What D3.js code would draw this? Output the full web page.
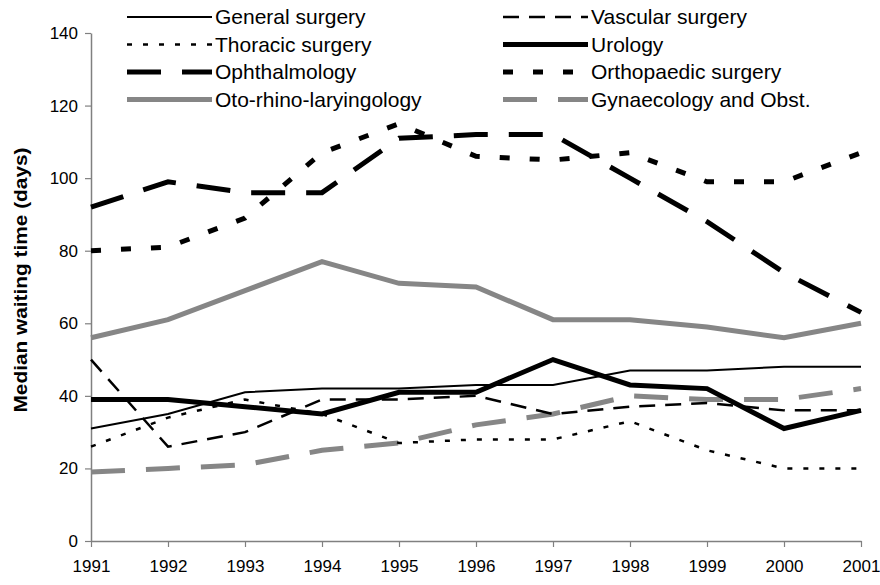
<!DOCTYPE html>
<html>
<head>
<meta charset="utf-8">
<script src="https://cdn.jsdelivr.net/npm/d3@7"></script>
<style>
  body { margin: 0; background: #fff; }
  text { font-family: "Liberation Sans", Arial, sans-serif; }
</style>
</head>
<body>
<div id="chart"></div>
<script>
var years = [1991, 1992, 1993, 1994, 1995, 1996, 1997, 1998, 1999, 2000, 2001];

var generalSurgery = [31, 35, 41, 42, 42, 43, 43, 47, 47, 48, 48];
var vascularSurgery = [50, 26, 30, 39, 39, 40, 35, 37, 38, 36, 36];
var thoracicSurgery = [26, 34, 39, 35, 27, 28, 28, 33, 25, 20, 20];
var urology = [39, 39, 37, 35, 41, 41, 50, 43, 42, 31, 36];
var ophthalmology = [92, 99, 96, 96, 111, 112, 112, 100, 88, 74, 63];
var orthopaedic = [80, 81, 89, 107, 115, 106, 105, 107, 99, 99, 107];
var otoRhino = [56, 61, 69, 77, 71, 70, 61, 61, 59, 56, 60];
var gynaecology = [19, 20, 21, 25, 27, 32, 35, 40, 39, 39, 42];

var yTicks = [0, 20, 40, 60, 80, 100, 120, 140];

var grey = "#868686";
var series = [
  { name: "General surgery", values: generalSurgery, color: "#000", width: 2, dash: null },
  { name: "Vascular surgery", values: vascularSurgery, color: "#000", width: 2.5, dash: "16,10" },
  { name: "Thoracic surgery", values: thoracicSurgery, color: "#000", width: 2.5, dash: "5,11" },
  { name: "Urology", values: urology, color: "#000", width: 5, dash: null },
  { name: "Ophthalmology", values: ophthalmology, color: "#000", width: 5, dash: "34,21" },
  { name: "Orthopaedic surgery", values: orthopaedic, color: "#000", width: 5, dash: "10,20" },
  { name: "Oto-rhino-laryingology", values: otoRhino, color: grey, width: 5, dash: null },
  { name: "Gynaecology and Obst.", values: gynaecology, color: grey, width: 5, dash: "34,21" }
];

var W = 880, H = 585;
var margin = { top: 33, right: 19, bottom: 44, left: 91 };
var width = W - margin.left - margin.right,
    height = H - margin.top - margin.bottom;

var svg = d3.select("#chart").append("svg")
  .attr("width", W)
  .attr("height", H);

var g = svg.append("g")
  .attr("transform", "translate(" + margin.left + "," + margin.top + ")");

var xScale = d3.scaleLinear()
  .domain([years[0], years[years.length - 1]])
  .range([0, width]);

var yScale = d3.scaleLinear()
  .domain([0, 140])
  .range([height, 0]);

var xAxis = g.append("g")
  .attr("transform", "translate(0," + height + ")")
  .call(d3.axisBottom(xScale).tickValues(years).tickFormat(d3.format("d")).tickSizeInner(6).tickSizeOuter(0).tickPadding(13));

var yAxis = g.append("g")
  .call(d3.axisLeft(yScale).tickValues(yTicks).tickSizeInner(6).tickSizeOuter(0).tickPadding(7));

[xAxis, yAxis].forEach(function (ax) {
  ax.select(".domain").attr("stroke", "#808080").attr("stroke-width", 1.5);
  ax.selectAll(".tick line").attr("stroke", "#808080").attr("stroke-width", 1.2);
  ax.selectAll(".tick text")
    .attr("fill", "#000")
    .style("font-size", "17px")
    .style("font-family", "'Liberation Sans', Arial, sans-serif");
});

g.append("text")
  .attr("transform", "rotate(-90)")
  .attr("x", -(280 - margin.top))
  .attr("y", -64)
  .attr("text-anchor", "middle")
  .attr("textLength", 265)
  .attr("lengthAdjust", "spacingAndGlyphs")
  .style("font-size", "19px")
  .style("font-weight", "bold")
  .text("Median waiting time (days)");

var line = d3.line()
  .x(function (d, i) { return xScale(years[i]); })
  .y(function (d) { return yScale(d); });

// grey lines underneath, black ones on top
var order = [6, 7, 0, 1, 2, 3, 4, 5];
order.forEach(function (k) {
  var s = series[k];
  g.append("path")
    .datum(s.values)
    .attr("fill", "none")
    .attr("stroke", s.color)
    .attr("stroke-width", s.width)
    .attr("stroke-dasharray", s.dash)
    .attr("d", line);
});

// legend, two columns, four rows
var legend = svg.append("g");
series.forEach(function (s, i) {
  var col = i % 2, row = Math.floor(i / 2);
  var lx = col === 0 ? 127 : 503;
  var tx = col === 0 ? 215 : 591;
  var ly = 17 + row * 27.5;
  legend.append("line")
    .attr("x1", lx).attr("x2", tx - 3)
    .attr("y1", ly).attr("y2", ly)
    .attr("stroke", s.color)
    .attr("stroke-width", s.width)
    .attr("stroke-dasharray", s.dash);
  legend.append("text")
    .attr("x", tx)
    .attr("y", ly + 7)
    .style("font-size", "21px")
    .text(s.name);
});
</script>
</body>
</html>
